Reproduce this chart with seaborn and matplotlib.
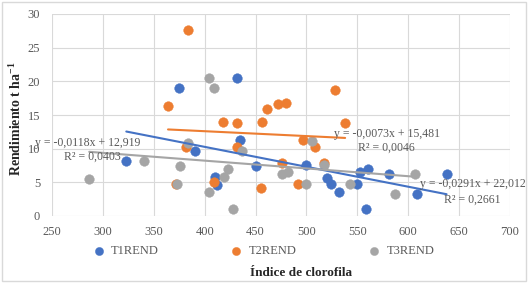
import seaborn as sns
import matplotlib.pyplot as plt
import pandas as pd

# Datos (índice de clorofila, rendimiento t/ha)
t1_x = [323, 375, 390.5, 410, 412, 432, 435, 450.4, 500, 520.5, 524, 532, 550, 552.5, 560.7, 558.5, 581, 609, 637.7]
t1_y = [8.2, 19.0, 9.6, 5.8, 4.6, 20.5, 11.3, 7.4, 7.6, 5.6, 4.7, 3.6, 4.7, 6.6, 7.0, 1.1, 6.3, 3.3, 6.3]

t2_x = [364, 372, 382, 384, 409, 417.7, 432, 432, 455, 456, 461.5, 471.7, 476, 480, 492, 497, 508, 517.5, 528, 538]
t2_y = [16.3, 4.7, 10.3, 27.6, 5.0, 14.0, 10.3, 13.8, 4.2, 14.0, 15.9, 16.6, 7.9, 16.8, 4.7, 11.3, 10.3, 7.9, 18.7, 13.8]

t3_x = [286.6, 340, 373, 376, 384, 404.5, 404.5, 409, 419, 423, 428, 437, 475.6, 482, 499.5, 505.7, 517.5, 542.7, 587, 607]
t3_y = [5.5, 8.2, 4.7, 7.5, 10.9, 3.5, 20.5, 19.0, 5.8, 7.0, 1.1, 9.7, 6.3, 6.6, 4.7, 11.1, 7.6, 4.7, 3.3, 6.3]

series = ["T1REND", "T2REND", "T3REND"]
colores = ["#4472C4", "#ED7D31", "#A5A5A5"]
ecuaciones = ["y = -0,0291x + 22,012", "y = -0,0073x + 15,481", "y = -0,0118x + 12,919"]
r2 = ["R² = 0,2661", "R² = 0,0046", "R² = 0,0403"]

df = pd.concat([
    pd.DataFrame({"x": t1_x, "y": t1_y, "serie": "T1REND"}),
    pd.DataFrame({"x": t2_x, "y": t2_y, "serie": "T2REND"}),
    pd.DataFrame({"x": t3_x, "y": t3_y, "serie": "T3REND"}),
])

sns.set_style("whitegrid", {"grid.color": "#D9D9D9"})
plt.rcParams["font.family"] = ["Liberation Serif", "DejaVu Serif"]

fig = plt.figure(figsize=(5.29, 2.83), dpi=100)
ax = fig.add_axes([52 / 529, 1 - 216 / 283, 458 / 529, 202 / 283])

for s, c in zip(series, colores):
    d = df[df["serie"] == s]
    sns.scatterplot(data=d, x="x", y="y", color=c, s=48, edgecolor=c, linewidth=0.3,
                    label=s, ax=ax, zorder=3)

# Líneas de tendencia lineal
for s, c in zip(series, colores):
    d = df[df["serie"] == s]
    sns.regplot(data=d, x="x", y="y", scatter=False, ci=None, ax=ax,
                line_kws={"color": c, "lw": 1.5, "zorder": 4}, label="_nolegend_")

ax.set_xlim(250, 700)
ax.set_ylim(0, 30)
ax.set_xticks(range(250, 701, 50))
ax.set_yticks(range(0, 31, 5))
ax.tick_params(labelsize=9, colors="#595959", length=0)
ax.tick_params(axis="x", pad=7)
ax.tick_params(axis="y", pad=8.5)
for sp in ax.spines.values():
    sp.set_visible(False)
ax.grid(True, lw=0.8)
ax.set_xlabel("")
ax.set_ylabel("")

txt = dict(fontsize=8.5, color="#595959", ha="left", va="center", zorder=5, clip_on=False)
ax.text(611.5, 4.75, ecuaciones[0], **txt)
ax.text(635, 2.38, r2[0], **txt)
ax.text(527, 12.18, ecuaciones[1], **txt)
ax.text(550.6, 10.1, r2[1], **txt)
ax.text(233, 10.85, ecuaciones[2], **txt)
ax.text(261.8, 8.77, r2[2], **txt)

ax.legend_.remove()
h, l = ax.get_legend_handles_labels()
fig.legend(h, l, loc="center", bbox_to_anchor=(0.498, 1 - 251 / 283), ncol=3, frameon=False,
           fontsize=9, labelcolor="#595959", handlelength=1.0, handletextpad=0.5,
           columnspacing=5.7, markerscale=0.85)

fig.text(301 / 529, 1 - 273 / 283, "Índice de clorofila", ha="center", va="center",
         fontsize=9.5, fontweight="bold")
fig.text(16 / 529, 1 - 119 / 283, "Rendimiento t ha$^{\\mathregular{-1}}$", rotation=90,
         ha="center", va="center", fontsize=10, fontweight="bold")

fig.patches.append(plt.Rectangle((0.004, 0.006), 0.99, 0.988, transform=fig.transFigure,
                                 fill=False, ec="#D9D9D9", lw=1))

fig.savefig("out.png", dpi=100)
